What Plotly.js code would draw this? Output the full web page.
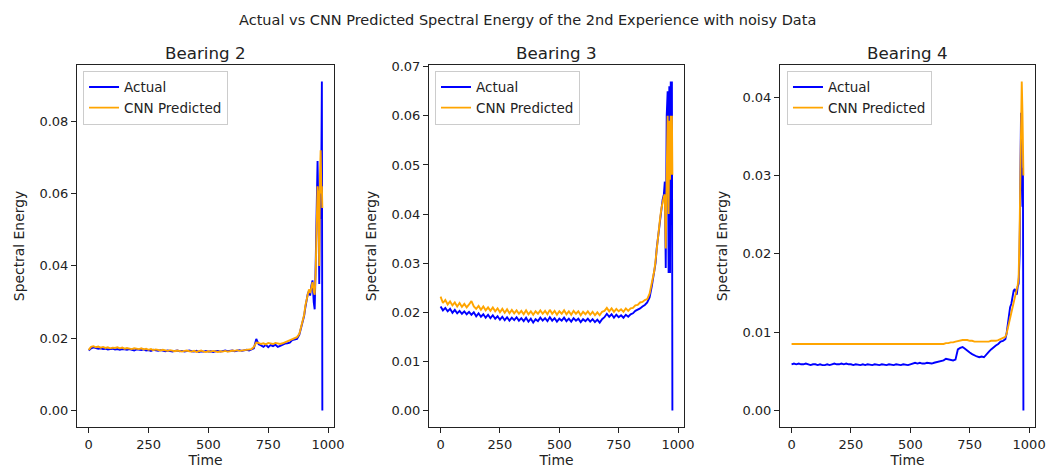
<!DOCTYPE html>
<html>
<head>
<meta charset="utf-8">
<script src="https://cdn.plot.ly/plotly-3.0.1.min.js"></script>
<style>html,body{margin:0;padding:0;background:#fff;}#chart{width:1049px;height:470px;}</style>
</head>
<body>
<div id="chart"></div>
<script>
const time = [0,10,20,30,40,50,60,70,80,90,100,110,120,130,140,150,160,170,180,190,200,
210,220,230,240,250,260,270,280,290,300,310,320,330,340,350,360,370,380,390,400,
410,420,430,440,450,460,470,480,490,500,510,520,530,540,550,560,570,580,590,600,
610,620,630,640,650,660,670,680,690,700,710,720,730,740,750,760,770,780,790,800,
810,820,830,840,850,860,870,880,890,900,
905,910,915,920,925,930,935,940,944,948,952,956,960,963,966,969,972,974,976];

const subplotTitles = ["Bearing 2", "Bearing 3", "Bearing 4"];
const seriesNames = ["Actual", "CNN Predicted"];

const bearing2Actual = [0.0166,0.0172,0.0175,0.0173,0.0171,0.0172,0.0170,0.0171,0.0169,0.0170,0.0171,
0.0169,0.0170,0.0168,0.0170,0.0169,0.0168,0.0170,0.0167,0.0166,0.0169,
0.0168,0.0167,0.0169,0.0166,0.0167,0.0165,0.0168,0.0166,0.0165,0.0167,
0.0166,0.0164,0.0166,0.0165,0.0163,0.0165,0.0166,0.0164,0.0165,0.0163,
0.0164,0.0166,0.0164,0.0163,0.0165,0.0162,0.0164,0.0163,0.0165,0.0163,
0.0164,0.0162,0.0164,0.0165,0.0163,0.0164,0.0166,0.0164,0.0165,0.0166,
0.0164,0.0166,0.0167,0.0165,0.0167,0.0168,0.0166,0.0168,0.0172,0.0198,
0.0183,0.0180,0.0176,0.0182,0.0175,0.0181,0.0178,0.0182,0.0176,0.0179,
0.0183,0.0185,0.0186,0.0188,0.0195,0.0196,0.0198,0.0210,0.0235,0.0262,
0.0285,0.0305,0.0322,0.0330,0.0318,0.0345,0.0360,0.0300,0.0280,0.0400,0.0600,0.0690,0.0540,0.0350,0.0600,0.0530,0.0700,0.0910,0.0000];

const bearing2Pred = [0.0168,0.0176,0.0178,0.0175,0.0177,0.0174,0.0176,0.0173,0.0175,0.0172,0.0174,
0.0173,0.0175,0.0172,0.0174,0.0171,0.0173,0.0172,0.0170,0.0172,0.0171,
0.0170,0.0172,0.0169,0.0171,0.0168,0.0170,0.0167,0.0169,0.0168,0.0166,
0.0168,0.0167,0.0165,0.0167,0.0166,0.0164,0.0166,0.0165,0.0163,0.0165,
0.0166,0.0164,0.0163,0.0165,0.0162,0.0164,0.0166,0.0163,0.0162,0.0164,
0.0163,0.0165,0.0163,0.0162,0.0164,0.0163,0.0165,0.0163,0.0164,0.0166,
0.0165,0.0167,0.0165,0.0166,0.0168,0.0167,0.0169,0.0170,0.0176,0.0188,
0.0187,0.0184,0.0186,0.0183,0.0187,0.0185,0.0184,0.0187,0.0185,0.0184,
0.0186,0.0189,0.0190,0.0193,0.0198,0.0201,0.0203,0.0212,0.0238,0.0265,
0.0290,0.0310,0.0320,0.0335,0.0325,0.0340,0.0355,0.0330,0.0320,0.0380,0.0500,0.0620,0.0580,0.0400,0.0650,0.0720,0.0600,0.0620,0.0560];

const bearing3Actual = [0.0212,0.0204,0.0209,0.0202,0.0207,0.0199,0.0205,0.0198,0.0203,0.0197,0.0202,
0.0196,0.0201,0.0195,0.0200,0.0192,0.0198,0.0191,0.0196,0.0189,0.0195,
0.0188,0.0194,0.0187,0.0192,0.0185,0.0191,0.0184,0.0190,0.0183,0.0189,
0.0184,0.0190,0.0183,0.0188,0.0182,0.0189,0.0181,0.0187,0.0179,0.0186,
0.0182,0.0189,0.0183,0.0188,0.0182,0.0190,0.0183,0.0188,0.0181,0.0187,
0.0183,0.0189,0.0182,0.0187,0.0181,0.0188,0.0183,0.0187,0.0180,0.0186,
0.0182,0.0187,0.0181,0.0186,0.0180,0.0185,0.0179,0.0186,0.0190,0.0197,
0.0191,0.0196,0.0189,0.0195,0.0190,0.0194,0.0189,0.0195,0.0191,0.0196,
0.0198,0.0203,0.0205,0.0208,0.0212,0.0215,0.0220,0.0230,0.0255,0.0280,
0.0300,0.0330,0.0350,0.0380,0.0400,0.0420,0.0430,0.0440,0.0466,0.0290,0.0600,0.0650,0.0280,0.0660,0.0280,0.0670,0.0470,0.0670,0.0000];

const bearing3Pred = [0.0232,0.0219,0.0225,0.0216,0.0222,0.0214,0.0220,0.0212,0.0219,0.0211,0.0217,
0.0210,0.0216,0.0223,0.0212,0.0207,0.0213,0.0205,0.0212,0.0204,0.0210,
0.0203,0.0210,0.0202,0.0208,0.0200,0.0207,0.0199,0.0206,0.0198,0.0205,
0.0198,0.0204,0.0197,0.0203,0.0196,0.0204,0.0196,0.0202,0.0195,0.0202,
0.0197,0.0204,0.0197,0.0203,0.0196,0.0205,0.0197,0.0203,0.0195,0.0202,
0.0197,0.0204,0.0196,0.0202,0.0195,0.0203,0.0197,0.0202,0.0194,0.0201,
0.0196,0.0202,0.0195,0.0201,0.0194,0.0200,0.0194,0.0201,0.0203,0.0209,
0.0202,0.0208,0.0201,0.0207,0.0202,0.0206,0.0201,0.0208,0.0203,0.0208,
0.0209,0.0214,0.0215,0.0220,0.0221,0.0225,0.0227,0.0238,0.0260,0.0285,
0.0305,0.0330,0.0350,0.0375,0.0395,0.0412,0.0425,0.0435,0.0440,0.0330,0.0480,0.0600,0.0400,0.0590,0.0470,0.0600,0.0480,0.0600,0.0480];

const bearing4Actual = [0.0059,0.0060,0.0059,0.0060,0.0059,0.0059,0.0060,0.0059,0.0058,0.0059,0.0059,
0.0058,0.0059,0.0058,0.0058,0.0059,0.0058,0.0059,0.0060,0.0059,0.0059,
0.0060,0.0059,0.0060,0.0059,0.0059,0.0058,0.0059,0.0058,0.0058,0.0059,
0.0058,0.0059,0.0058,0.0058,0.0059,0.0058,0.0058,0.0059,0.0058,0.0058,
0.0059,0.0058,0.0058,0.0059,0.0058,0.0058,0.0059,0.0058,0.0058,0.0059,
0.0060,0.0061,0.0060,0.0061,0.0060,0.0060,0.0061,0.0060,0.0060,0.0061,
0.0062,0.0062,0.0063,0.0064,0.0066,0.0065,0.0064,0.0064,0.0065,0.0078,
0.0080,0.0081,0.0079,0.0076,0.0074,0.0072,0.0070,0.0069,0.0068,0.0069,
0.0068,0.0072,0.0075,0.0078,0.0081,0.0083,0.0085,0.0088,0.0089,0.0091,
0.0098,0.0110,0.0125,0.0132,0.0136,0.0148,0.0153,0.0155,0.0152,0.0148,0.0158,0.0162,0.0200,0.0280,0.0380,0.0310,0.0260,0.0310,0.0000];

const bearing4Pred = [0.0085,0.0085,0.0085,0.0085,0.0085,0.0085,0.0085,0.0085,0.0085,0.0085,0.0085,
0.0085,0.0085,0.0085,0.0085,0.0085,0.0085,0.0085,0.0085,0.0085,0.0085,
0.0085,0.0085,0.0085,0.0085,0.0085,0.0085,0.0085,0.0085,0.0085,0.0085,
0.0085,0.0085,0.0085,0.0085,0.0085,0.0085,0.0085,0.0085,0.0085,0.0085,
0.0085,0.0085,0.0085,0.0085,0.0085,0.0085,0.0085,0.0085,0.0085,0.0085,
0.0085,0.0085,0.0085,0.0085,0.0085,0.0085,0.0085,0.0085,0.0085,0.0085,
0.0085,0.0085,0.0085,0.0085,0.0086,0.0086,0.0087,0.0087,0.0088,0.0089,
0.0090,0.0090,0.0090,0.0090,0.0089,0.0089,0.0088,0.0088,0.0088,0.0088,
0.0088,0.0088,0.0088,0.0089,0.0089,0.0089,0.0090,0.0091,0.0092,0.0094,
0.0098,0.0105,0.0112,0.0120,0.0125,0.0132,0.0138,0.0145,0.0150,0.0155,0.0160,0.0170,0.0230,0.0320,0.0400,0.0420,0.0380,0.0350,0.0300];

const yTickStep = [0.02, 0.01, 0.01];
const xTickVals = [0, 250, 500, 750, 1000];

const actualSets = [bearing2Actual, bearing3Actual, bearing4Actual];
const predSets = [bearing2Pred, bearing3Pred, bearing4Pred];

const FONT = "DejaVu Sans, sans-serif";
const TXT = "#222";

function padRange(arrs) {
  let lo = Infinity, hi = -Infinity;
  arrs.forEach(a => a.forEach(v => { if (v < lo) lo = v; if (v > hi) hi = v; }));
  const p = (hi - lo) * 0.05;
  return [lo - p, hi + p];
}

const traces = [];
const layout = {
  width: 1049, height: 470,
  margin: {l: 77, r: 14, t: 65, b: 43},
  paper_bgcolor: "#fff", plot_bgcolor: "#fff",
  font: {family: FONT, color: TXT, size: 13.9},
  title: {text: "Actual vs CNN Predicted Spectral Energy of the 2nd Experience with noisy Data",
          font: {family: FONT, size: 14.5, color: TXT}, x: 0.503, xref: "container", y: 0.957, yref: "container", yanchor: "middle", xanchor: "center"},
  annotations: []
};
const domains = [[0, 0.2683], [0.3674, 0.6336], [0.7338, 1.0]];
const legendX = [0.0063, 0.3737, 0.7411];

for (let i = 0; i < 3; i++) {
  const sfx = i === 0 ? "" : String(i + 1);
  const lg = "legend" + sfx;
  traces.push({x: time, y: actualSets[i], type: "scatter", mode: "lines", name: seriesNames[0],
    line: {color: "#0000ff", width: 1.9}, xaxis: "x" + sfx, yaxis: "y" + sfx, legend: lg});
  traces.push({x: time, y: predSets[i], type: "scatter", mode: "lines", name: seriesNames[1],
    line: {color: "#ffa500", width: 1.9}, xaxis: "x" + sfx, yaxis: "y" + sfx, legend: lg});
  const common = {showline: true, mirror: true, linecolor: "#222", linewidth: 1, ticks: "outside", ticklen: 5,
    tickcolor: "#222", showgrid: false, zeroline: false, tickfont: {family: FONT, size: 13, color: TXT}};
  layout["xaxis" + sfx] = Object.assign({}, common, {domain: domains[i], anchor: "y" + sfx,
    range: padRange([time]), tickvals: xTickVals,
    title: {text: "Time", font: {family: FONT, size: 13.9, color: TXT}, standoff: 3}});
  layout["yaxis" + sfx] = Object.assign({}, common, {domain: [0, 1], anchor: "x" + sfx,
    range: padRange([actualSets[i], predSets[i]]), dtick: yTickStep[i], tick0: 0, tickformat: ".2f",
    title: {text: "Spectral Energy", font: {family: FONT, size: 13.9, color: TXT}, standoff: 11}});
  layout[lg] = {x: legendX[i], xref: "paper", y: 0.984, yref: "paper", xanchor: "left", yanchor: "top",
    bgcolor: "rgba(255,255,255,0.8)", bordercolor: "#cccccc", borderwidth: 1,
    font: {family: FONT, size: 13.5, color: TXT}, tracegroupgap: 0};
  layout.annotations.push({text: subplotTitles[i], xref: "x" + sfx + " domain", x: 0.5, yref: "paper", y: 1.034,
    xanchor: "center", yanchor: "middle", showarrow: false, font: {family: FONT, size: 16.7, color: TXT}});
}

Plotly.newPlot("chart", traces, layout, {displayModeBar: false, staticPlot: true});
</script>
</body>
</html>
